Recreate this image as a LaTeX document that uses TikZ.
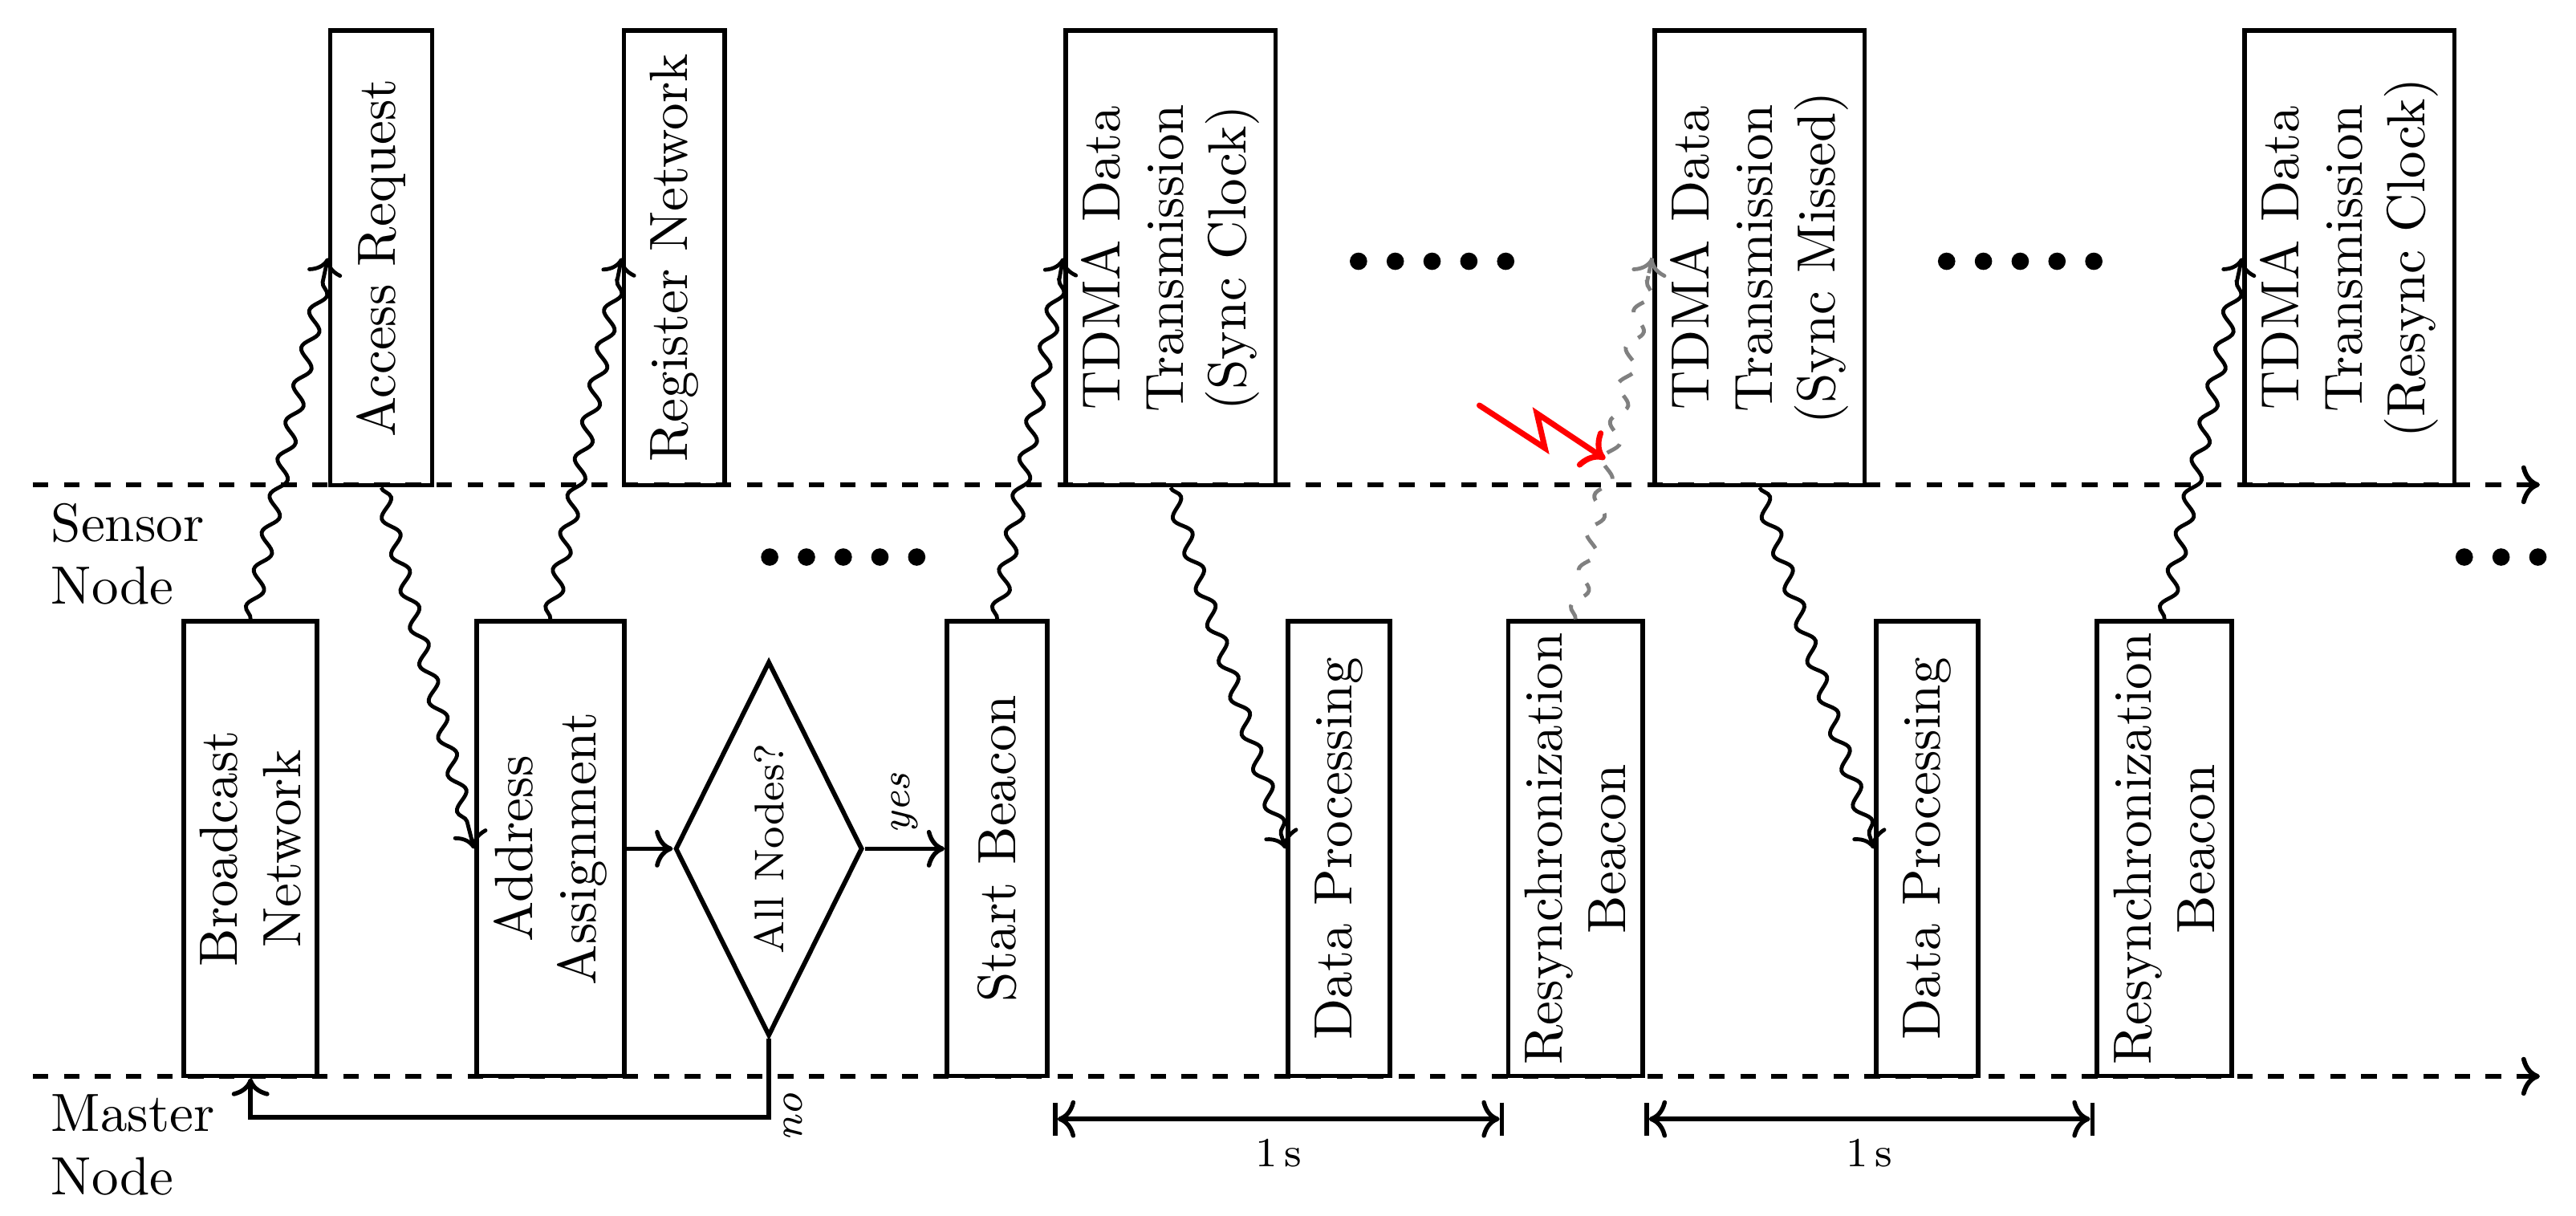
\documentclass[tikz,border=0pt]{standalone}
\usetikzlibrary{decorations.pathmorphing,shapes.geometric,arrows.meta,calc}
\begin{document}
\begin{tikzpicture}[x=0.3175pt,y=-0.3175pt,
  >={Computer Modern Rightarrow},
  every node/.style={font=\fontsize{10.4}{12.2}\selectfont},
  box/.style={draw, line width=0.9pt, rotate=90, minimum width=87.8pt, inner sep=0pt, align=center},
  lane/.style={line width=0.9pt, dashed, ->},
  flow/.style={line width=0.85pt, ->},
  wavebase/.style={line width=0.75pt, decorate, decoration={snake, amplitude=1.4pt, segment length=7.3pt, post length=2.5pt}},
  wave/.style={wavebase, ->},
  lbl/.style={font=\fontsize{8}{9.6}\selectfont, inner sep=2.5pt},
  dot/.style={fill=black}]
\useasboundingbox (0,0) rectangle (1568,740);
% lanes
\coordinate (s0) at (20,295); \coordinate (s1) at (1546,295);
\coordinate (m0) at (20,655); \coordinate (m1) at (1546,655);
\draw[lane] (s0) -- (s1);
\draw[lane] (m0) -- (m1);
\node[anchor=north west, align=left] (sn) at (s0) {Sensor\\Node};
\node[anchor=north west, align=left] (mn) at (m0) {Master\\Node};
% sensor boxes
\node[box, minimum height=19.7pt] (acc) at (232,157) {Access Request};
\node[box, minimum height=19.5pt] (reg) at (410.5,157) {Register Network};
\node[box, minimum height=40.6pt] (t1) at (712.5,157) {TDMA Data\\Transmission\\(Sync Clock)};
\node[box, minimum height=40.6pt] (t2) at (1071,157) {TDMA Data\\Transmission\\(Sync Missed)};
\node[box, minimum height=40.6pt] (t3) at (1430,157) {TDMA Data\\Transmission\\(Resync Clock)};
% master boxes
\node[box, minimum height=25.7pt] (bc) at (152.5,516.5) {Broadcast\\Network};
\node[box, minimum height=28.6pt] (addr) at (335,516.5) {Address\\Assignment};
\node[draw, line width=0.9pt, diamond, aspect=2, rotate=90, minimum width=72.4pt, minimum height=36.2pt, inner sep=0pt, font=\fontsize{8}{9.6}\selectfont] (dia) at (468,516.5) {All Nodes?};
\node[box, minimum height=19.4pt] (start) at (607,516.5) {Start Beacon};
\node[box, minimum height=19.7pt] (dp1) at (815,516.5) {Data Processing};
\node[box, minimum height=26pt] (rs1) at (959,516.5) {Resynchronization\\Beacon};
\node[box, minimum height=19.7pt] (dp2) at (1173,516.5) {Data Processing};
\node[box, minimum height=26pt] (rs2) at (1317.5,516.5) {Resynchronization\\Beacon};
% wireless links
\draw[wave] (bc.east) -- (acc.north);
\draw[wave] (acc.west) -- (addr.north);
\draw[wave] (addr.east) -- (reg.north);
\draw[wave] (start.east) -- (t1.north);
\draw[wave] (t1.west) -- (dp1.north);
\draw[wavebase, gray, dashed] (rs1.east) -- (t2.north);
\coordinate (g0) at ($(t2.north)!3pt!(rs1.east)$);
\draw[->, gray, line width=0.75pt] (g0) -- (t2.north);
\draw[wave] (t2.west) -- (dp2.north);
\draw[wave] (rs2.east) -- (t3.north);
% flow
\draw[flow] (addr.south) -- (dia.north);
\draw[flow] (dia.south) -- node[lbl, rotate=90, anchor=west] {\itshape yes} (start.north);
\draw[flow] (dia.west) -- ++(0,48) node[lbl, rotate=90, anchor=north] {\itshape no} -| (bc.west);
% lightning
\coordinate (l0) at (900.5,246.7); \coordinate (l1) at (940.4,272.7);
\coordinate (l2) at (935.5,251.6); \coordinate (l3) at (977,279.3);
\draw[->, red, line width=1.1pt, line cap=round] (l0) -- (l1) -- (l2) -- (l3);
% time spans
\coordinate (d1a) at (641,681); \coordinate (d1b) at (915.5,681);
\coordinate (d2a) at (1001,681); \coordinate (d2b) at (1275,681);
\draw[|<->|, line width=0.85pt] (d1a) -- node[lbl, below, yshift=-1pt] {1\,s} (d1b);
\draw[|<->|, line width=0.85pt] (d2a) -- node[lbl, below, yshift=-1pt] {1\,s} (d2b);
% dots
\foreach \x in {468.5,490.9,513.3,535.6,558} \fill[dot] (\x,339) circle[radius=1.68pt];
\foreach \x in {826.9,849.3,871.7,894.1,916.5} \fill[dot] (\x,159) circle[radius=1.68pt];
\foreach \x in {1184.9,1207.3,1229.7,1252.1,1274.5} \fill[dot] (\x,159) circle[radius=1.68pt];
\foreach \x in {1500,1522.4,1544.8} \fill[dot] (\x,339) circle[radius=1.68pt];
\end{tikzpicture}
\end{document}
